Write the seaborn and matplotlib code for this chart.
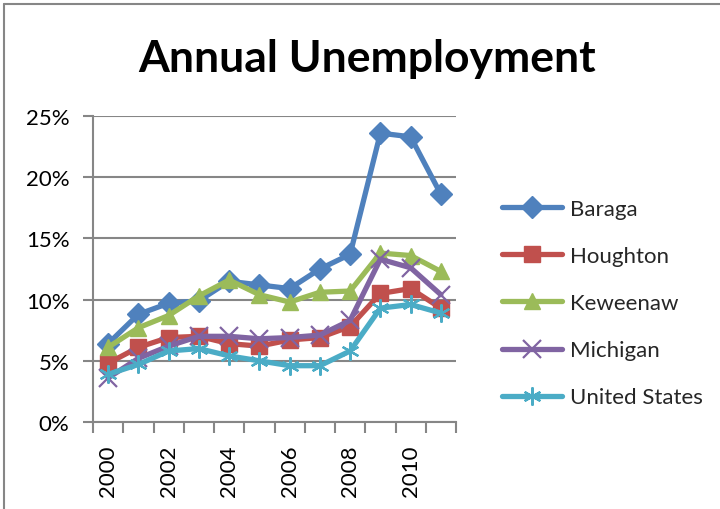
import matplotlib
matplotlib.use("Agg")
import matplotlib.pyplot as plt
import seaborn as sns
import pandas as pd
import numpy as np
from matplotlib.lines import Line2D

years = list(range(2000, 2012))
baraga = [6.4, 8.8, 9.7, 9.9, 11.5, 11.2, 10.9, 12.5, 13.7, 23.6, 23.3, 18.6]
houghton = [4.8, 6.1, 6.9, 7.0, 6.4, 6.2, 6.7, 6.9, 7.8, 10.5, 10.9, 9.3]
keweenaw = [6.1, 7.7, 8.7, 10.3, 11.6, 10.4, 9.8, 10.6, 10.7, 13.8, 13.6, 12.3]
michigan = [3.6, 5.2, 6.2, 7.0, 7.0, 6.8, 6.9, 7.1, 8.3, 13.3, 12.6, 10.4]
united_states = [3.9, 4.7, 5.8, 6.0, 5.4, 5.0, 4.6, 4.6, 5.8, 9.3, 9.6, 8.9]

series_names = ["Baraga", "Houghton", "Keweenaw", "Michigan", "United States"]
series_values = [baraga, houghton, keweenaw, michigan, united_states]
colors = ["#4F81BD", "#C0504D", "#9BBB59", "#8064A2", "#4BACC6"]
markers = ["D", "s", "^", "x", (6, 2, 0)]
msizes = [11, 12, 12, 13, 13]
mews = [1, 1, 1, 1.6, 1.6]

rows = []
for name, vals in zip(series_names, series_values):
    for i, (y, v) in enumerate(zip(years, vals)):
        rows.append({"pos": i, "year": y, "series": name, "rate": v / 100.0})
df = pd.DataFrame(rows)

sns.set_theme(style="white")
plt.rcParams["font.family"] = ["Lato", "DejaVu Sans"]

fig = plt.figure(figsize=(7.2, 5.1), dpi=100)
ax = fig.add_axes([93 / 720, 1 - 423 / 510, (456 - 93) / 720, (423 - 117) / 510])

handles = []
for name, c, m, ms, mew in zip(series_names, colors, markers, msizes, mews):
    sub = df[df["series"] == name]
    sns.lineplot(data=sub, x="pos", y="rate", ax=ax, color=c, linewidth=3.8,
                 marker=m, markersize=ms, markeredgecolor=c, markerfacecolor=c,
                 markeredgewidth=mew, legend=False, zorder=3)
    handles.append(Line2D([0], [0], color=c, linewidth=3.8, marker=m,
                          markersize=ms, markeredgecolor=c, markerfacecolor=c,
                          markeredgewidth=mew, solid_capstyle="round"))

ax.set_xlim(-0.5, 11.5)
ax.set_ylim(0, 0.25)
ax.set_yticks(np.arange(0, 0.26, 0.05))
ax.set_yticklabels([f"{int(round(t * 100))}%" for t in np.arange(0, 0.26, 0.05)],
                   fontsize=16, color="black")
ax.yaxis.grid(True, color="#868686", linewidth=1.5)
ax.xaxis.grid(False)
ax.set_axisbelow(True)

# tick marks at category boundaries, labels at every other category
ax.set_xticks(np.arange(-0.5, 12, 1.0))
ax.set_xticklabels([])
ax.set_xticks(np.arange(0, 12, 2), minor=True)
ax.set_xticklabels([str(y) for y in years[::2]], minor=True, rotation=90,
                   fontsize=16, color="black")
ax.tick_params(axis="x", which="major", direction="out", length=8, width=1.5,
               color="#868686", bottom=True)
ax.tick_params(axis="x", which="minor", length=0, pad=16, bottom=True)
ax.tick_params(axis="y", direction="out", length=7, width=1.5, color="#868686",
               left=True, pad=10)

for s in ["top", "right"]:
    ax.spines[s].set_visible(False)
for s in ["left", "bottom"]:
    ax.spines[s].set_color("#868686")
    ax.spines[s].set_linewidth(1.5)
ax.set_xlabel("")
ax.set_ylabel("")

fig.text(367 / 720, 1 - 59 / 510, "Annual Unemployment", ha="center", va="center",
         fontsize=32, fontweight="bold", color="black")

fig.legend(handles, series_names, loc="upper left",
           bbox_to_anchor=(482 / 720, 1 - 180 / 510), frameon=False,
           fontsize=16, handlelength=2.7, labelspacing=1.22, handletextpad=0.35)

# chart border (top and left visible)
fig.add_artist(Line2D([4 / 720, 4 / 720], [0, 1 - 5 / 510], transform=fig.transFigure,
                      color="#868686", linewidth=1.5))
fig.add_artist(Line2D([4 / 720, 1], [1 - 5 / 510, 1 - 5 / 510], transform=fig.transFigure,
                      color="#868686", linewidth=1.5))

fig.savefig("out.png", dpi=100)
